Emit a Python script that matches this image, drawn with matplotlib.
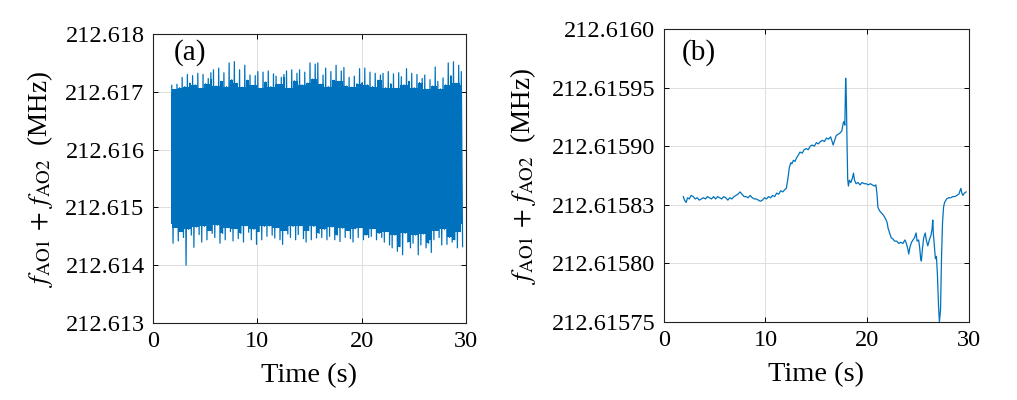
import numpy as np
import matplotlib
matplotlib.use("Agg")
import matplotlib.pyplot as plt

plt.rcParams['font.family'] = ['Liberation Serif', 'DejaVu Serif']
plt.rcParams['mathtext.fontset'] = 'stix'

BLUE = '#0072BD'

# ---- panel (a): noisy beat frequency, envelope ----
# samples every 0.25 s from 1.8 s
t_a_start, t_a_step = 1.8, 0.25
band_start, band_end = 1.72, 29.65
core_top = 212.61700      # solid part of the band
core_bottom = 212.61472
# spike tips above 212.617 (Hz)
upper_hz = [110, 40, 130, 70, 250, 90, 300, 150, 280, 120, 320, 60,
            300, 140, 230, 330, 380, 100, 410, 180, 330, 90, 500, 210,
            522, 150, 380, 80, 460, 200, 290, 110, 280, 350, 60, 340,
            170, 360, 90, 310, 270, 130, 250, 300, 360, 60, 380, 190,
            320, 380, 120, 340, 150, 500, 220, 480, 500, 130, 290, 410,
            90, 350, 200, 460, 180, 360, 420, 100, 250, 80, 270, 140,
            400, 160, 410, 120, 340, 90, 320, 200, 290, 320, 70, 350,
            140, 310, 60, 330, 260, 120, 400, 180, 320, 70, 300, 160,
            230, 290, 40, 210, 100, 430, 180, 50, 240, 120, 500, 280,
            520, 150, 460, 350]
# spike tips below 212.615 (Hz)
lower_hz = [620, 350, 580, 420, 520, 1000, 380, 480, 690, 340, 470, 600,
            330, 560, 400, 450, 520, 310, 620, 450, 560, 350, 420, 580,
            370, 540, 450, 600, 320, 430, 560, 380, 640, 420, 560, 330,
            500, 320, 480, 530, 350, 560, 640, 400, 460, 520, 330, 560,
            470, 320, 540, 600, 400, 560, 330, 530, 450, 520, 380, 560,
            500, 340, 560, 480, 590, 360, 520, 400, 540, 600, 370, 520,
            350, 560, 480, 520, 500, 370, 560, 450, 520, 600, 420, 650,
            700, 480, 760, 680, 820, 450, 600, 700, 620, 480, 820, 650,
            460, 700, 620, 780, 560, 400, 520, 650, 380, 640, 520, 600,
            560, 700, 420, 680]

# ---- panel (b): averaged trace, offsets from 212.6158 MHz in Hz ----
t_b = [1.93, 2.05, 2.2, 2.35, 2.5, 2.7, 2.9, 3.1, 3.3, 3.5, 3.7, 3.9, 4.1,
       4.3, 4.5, 4.7, 4.9, 5.1, 5.3, 5.5, 5.7, 5.9, 6.1, 6.3, 6.5, 6.7, 6.9,
       7.1, 7.3, 7.5, 7.7, 7.9, 8.1, 8.3, 8.5, 8.7, 8.9, 9.1, 9.3, 9.5, 9.7,
       9.9, 10.1, 10.3, 10.5, 10.7, 10.9, 11.1, 11.3, 11.5, 11.7, 11.9,
       12.05, 12.2, 12.35, 12.5, 12.6, 12.75, 12.9, 13.05, 13.2, 13.4, 13.6,
       13.8, 14.0, 14.2, 14.4, 14.6, 14.8, 15.0, 15.2, 15.4, 15.6, 15.8,
       16.0, 16.2, 16.4, 16.55, 16.65, 16.8, 16.95, 17.1, 17.3, 17.5, 17.65,
       17.72, 17.8, 17.88, 17.95, 18.02, 18.08, 18.15, 18.25, 18.4, 18.55,
       18.65, 18.75, 18.9, 19.1, 19.3, 19.5, 19.7, 19.9, 20.1, 20.3, 20.5,
       20.7, 20.85, 20.95, 21.05, 21.2, 21.4, 21.6, 21.8, 21.95, 22.05,
       22.2, 22.35, 22.5, 22.7, 22.9, 23.1, 23.3, 23.5, 23.7, 23.85, 24.0,
       24.08, 24.2, 24.35, 24.5, 24.65, 24.8, 24.9, 25.05, 25.15, 25.25,
       25.32, 25.42, 25.55, 25.7, 25.8, 25.95, 26.1, 26.27, 26.38, 26.44,
       26.5, 26.6, 26.7, 26.8, 26.9, 27.0, 27.09, 27.2, 27.3, 27.4, 27.5,
       27.6, 27.8, 28.0, 28.2, 28.4, 28.6, 28.8, 29.0, 29.2, 29.3, 29.4,
       29.55, 29.71]
f_b_hz = [57, 54, 52, 56, 55, 58, 57, 55, 56, 54, 55, 56, 55, 57, 56, 55, 57,
          55, 57, 56, 55, 57, 56, 54, 56, 55, 57, 58, 59, 61, 59, 57, 57, 56,
          58, 56, 55, 55, 54, 53, 54, 56, 55, 57, 56, 58, 57, 60, 59, 62, 61,
          63, 64, 72, 82, 86, 85, 88, 87, 90, 92, 95, 94, 97, 98, 97, 100,
          101, 100, 103, 102, 104, 105, 104, 107, 106, 108, 104, 101, 105,
          109, 110, 111, 113, 120, 121, 118, 158, 140, 100, 72, 66, 71, 69,
          73, 77, 71, 68, 69, 67, 69, 68, 68, 67, 68, 67, 66, 67, 60, 48, 45,
          43, 41, 38, 35, 30, 26, 22, 21, 19, 19, 17, 18, 17, 20, 17, 12, 8,
          14, 18, 20, 22, 26, 19, 20, 14, 4, 2, 12, 22, 26, 20, 15, 20, 24,
          30, 37, 25, 14, 4, 6, -10, -35, -50, -40, 5, 35, 48, 52, 55, 56, 56,
          57, 57, 58, 59, 64, 60, 58, 60, 61]

x_ticks = [0, 10, 20, 30]
yticks_a = [212.613, 212.614, 212.615, 212.616, 212.617, 212.618]
ytick_labels_a = ['212.613', '212.614', '212.615', '212.616', '212.617', '212.618']
yticks_b = [212.61575, 212.6158, 212.61585, 212.6159, 212.61595, 212.6160]
ytick_labels_b = ['212.61575', '212.61580', '212.61583', '212.61590',
                  '212.61595', '212.6160']

ylabel = r'$f_{\mathrm{AO1}}\,+\,f_{\mathrm{AO2}}$  (MHz)'


def style(ax):
    ax.set_xlim(0, 30)
    ax.set_xticks(x_ticks)
    ax.grid(True, color='#dedede', linewidth=0.7)
    ax.set_axisbelow(True)
    ax.tick_params(direction='in', top=True, right=True, length=3.5,
                   width=0.7, labelsize=17.5, pad=6)
    for s in ax.spines.values():
        s.set_linewidth(0.8)
        s.set_color('#222222')
    ax.set_xlabel('Time (s)', fontsize=20.5, labelpad=8)


def main():
    fig = plt.figure(figsize=(10.17, 4.0), dpi=100)

    # (a)
    ax1 = fig.add_axes([0.1504, 0.1925, 0.3078, 0.7225])
    t_a = t_a_start + t_a_step * np.arange(len(upper_hz))
    upper = 212.617 + np.array(upper_hz) * 1e-6
    lower = 212.615 - np.array(lower_hz) * 1e-6
    # fuzzy inner edge: lowest tip among neighbours is still solid
    up_in = np.maximum(np.minimum.reduce([upper, np.roll(upper, 1), np.roll(upper, -1)]), core_top)
    lo_in = np.minimum(np.maximum.reduce([lower, np.roll(lower, 1), np.roll(lower, -1)]), core_bottom)
    ax1.fill_between([band_start, band_end], [core_bottom] * 2, [core_top] * 2,
                     color=BLUE, linewidth=0, zorder=3)
    ax1.fill_between(t_a, lo_in, up_in, step='mid', color=BLUE, linewidth=0, zorder=3)
    # zigzag through the envelope tips, like the dense raw trace
    t_zig = np.column_stack([t_a, t_a + t_a_step / 2]).ravel()
    f_zig = np.column_stack([upper, lower]).ravel()
    ax1.plot(t_zig, f_zig, color=BLUE, linewidth=0.9, zorder=3)
    ax1.set_ylim(212.613, 212.618)
    ax1.set_yticks(yticks_a)
    ax1.set_yticklabels(ytick_labels_a)
    style(ax1)
    ax1.set_ylabel(ylabel, fontsize=19.5)
    ax1.yaxis.set_label_coords(-0.313, 0.5)
    ax1.text(0.118, 0.935, '(a)', transform=ax1.transAxes, fontsize=21,
             ha='center', va='center')

    # (b)
    ax2 = fig.add_axes([0.6526, 0.195, 0.3002, 0.7325])
    f_b = 212.6158 + np.array(f_b_hz) * 1e-6
    ax2.plot(t_b, f_b, color=BLUE, linewidth=0.9, zorder=3)
    ax2.set_ylim(212.61575, 212.6160)
    ax2.set_yticks(yticks_b)
    ax2.set_yticklabels(ytick_labels_b)
    style(ax2)
    ax2.set_ylabel(ylabel, fontsize=19.5)
    ax2.yaxis.set_label_coords(-0.412, 0.5)
    ax2.text(0.116, 0.92, '(b)', transform=ax2.transAxes, fontsize=21,
             ha='center', va='center')

    fig.savefig('out.png', dpi=100)


if __name__ == '__main__':
    main()
